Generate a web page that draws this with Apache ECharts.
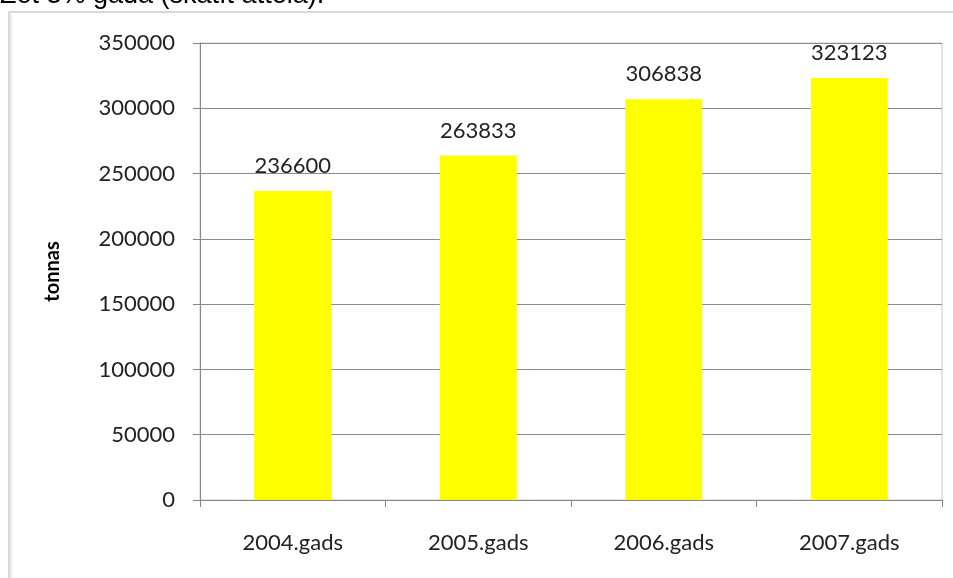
<!DOCTYPE html>
<html><head><meta charset="utf-8">
<script src="https://cdn.jsdelivr.net/npm/echarts@6/dist/echarts.min.js"></script>
<style>html,body{margin:0;padding:0;background:#fff}#c{width:953px;height:578px}</style>
</head><body><div id="c"></div>
<script>
const categories = ['2004.gads','2005.gads','2006.gads','2007.gads'];
const values = [236600, 263833, 306838, 323123];
const yTicks = [0, 50000, 100000, 150000, 200000, 250000, 300000, 350000];
const headerText = 'Zet 3% gadā (skatīt attēlā).';
const yName = 'tonnas';

const chart = echarts.init(document.getElementById('c'));
const font = 'Lato, "Open Sans", sans-serif';
chart.setOption({
  animation: false,
  backgroundColor: '#fff',
  grid: {left: 200, right: 11, top: 43, bottom: 78, show: true, borderColor: '#c8c8c8', borderWidth: 1},
  graphic: [
    {type: 'text', left: 0, top: -18, style: {text: headerText, font: '27px "Liberation Sans", Arial, sans-serif', fill: '#000'}},
    {type: 'line', shape: {x1: 9, y1: 12, x2: 9, y2: 578}, style: {stroke: '#b0b0b0', lineWidth: 1}},
    {type: 'line', shape: {x1: 11, y1: 14, x2: 11, y2: 578}, style: {stroke: '#d8d8d8', lineWidth: 1}},
    {type: 'line', shape: {x1: 9, y1: 12, x2: 953, y2: 12}, style: {stroke: '#b0b0b0', lineWidth: 1}}
  ],
  xAxis: {
    type: 'category', data: categories,
    axisLine: {lineStyle: {color: '#868686'}},
    axisTick: {show: true, length: 7, lineStyle: {color: '#868686'}},
    axisLabel: {color: '#222', fontSize: 22, fontFamily: font, margin: 32}
  },
  yAxis: {
    type: 'value', min: yTicks[0], max: yTicks[yTicks.length-1], interval: 50000,
    name: yName, nameLocation: 'middle', nameGap: 137, nameRotate: 90,
    nameTextStyle: {fontWeight: 'bold', fontSize: 20, color: '#000', fontFamily: font},
    axisLine: {show: true, lineStyle: {color: '#868686'}},
    axisTick: {show: true, length: 7, lineStyle: {color: '#868686'}},
    axisLabel: {color: '#222', fontSize: 22, fontFamily: font, margin: 25, formatter: v => String(v)},
    splitLine: {lineStyle: {color: '#8c8c8c'}}
  },
  series: [{
    type: 'bar', data: values, barWidth: 77,
    itemStyle: {color: '#ffff00'},
    label: {show: true, position: 'top', color: '#222', fontSize: 22, fontFamily: font, distance: 14}
  }]
});
</script></body></html>
